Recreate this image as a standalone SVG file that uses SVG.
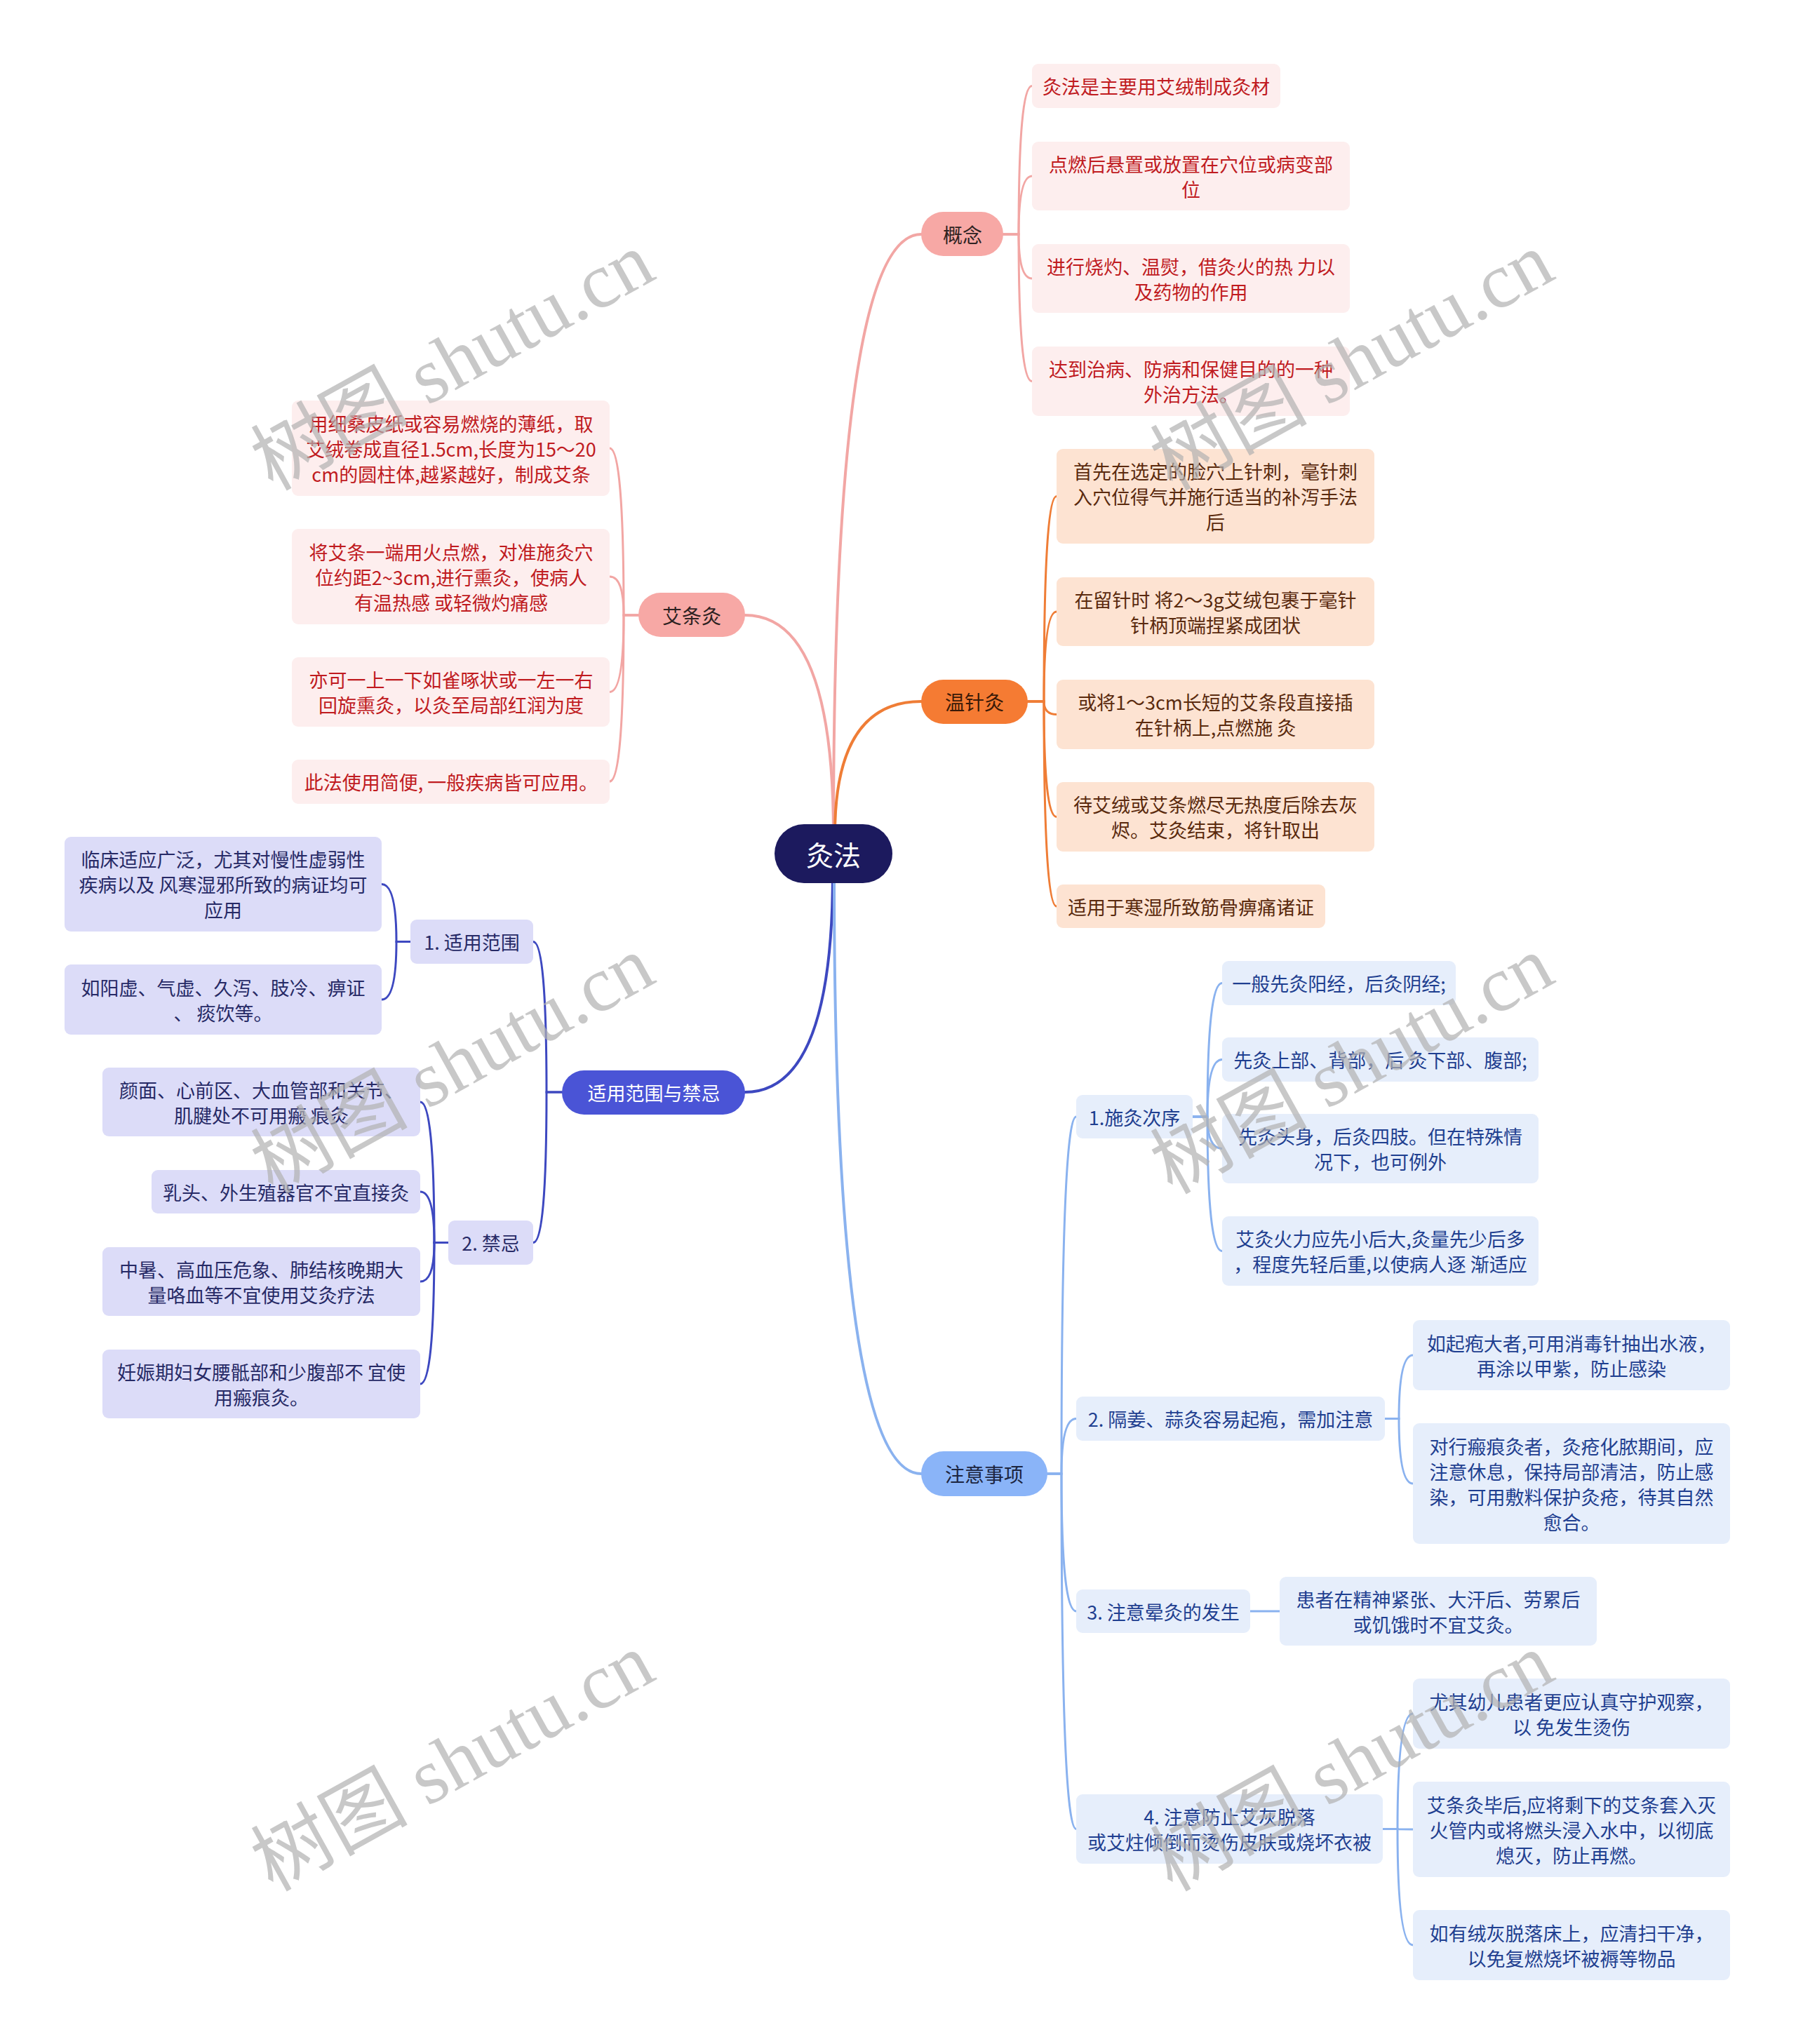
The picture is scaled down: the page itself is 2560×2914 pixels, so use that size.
<svg xmlns="http://www.w3.org/2000/svg" width="2560" height="2914" viewBox="0 0 2560 2914">
<style>
text{font-family:"Noto Sans CJK SC","Noto Sans",sans-serif;text-anchor:middle;dominant-baseline:central;font-size:27px}
.root{font-size:39px;fill:#fff}
.l1{font-size:28px}
.c{fill:none;stroke-linecap:round}
.pk{stroke:#f2a6a4;stroke-width:3}
.or{stroke:#ef7d36;stroke-width:3}
.bl{stroke:#3d48c0;stroke-width:3}
.lb{stroke:#8ab2ef;stroke-width:3}
.main{stroke-width:4}
.pkbox{fill:#fdeeee}
.pkt{fill:#c01b1f}
.orbox{fill:#fde3d2}
.ort{fill:#5a2a0e}
.blbox{fill:#dcdcf8}
.blt{fill:#272a66}
.lbbox{fill:#e6eefb}
.lbt{fill:#1f3f90}
.wm{font-family:"Liberation Serif","Noto Sans CJK SC",serif;font-size:112px;fill:#b0b0b0;fill-opacity:0.7}
</style>
<rect width="2560" height="2914" fill="#fff"/>
<g id="connectors">
<path class="c pk main" d="M1188,1190 Q1188,334 1313,334"/>
<path class="c pk main" d="M1188,1190 Q1188,877 1062,877"/>
<path class="c or main" d="M1190,1190 Q1190,1000 1313,1000"/>
<path class="c bl main" d="M1187,1245 Q1187,1557 1062,1557"/>
<path class="c lb main" d="M1189,1245 Q1189,2101 1313,2101"/>
<path class="c pk" d="M1430,334 L1452,334 Q1452,122.5 1471,122.5"/>
<path class="c pk" d="M1430,334 L1452,334 Q1452,251 1471,251"/>
<path class="c pk" d="M1430,334 L1452,334 Q1452,397 1471,397"/>
<path class="c pk" d="M1430,334 L1452,334 Q1452,543.5 1471,543.5"/>
<path class="c or" d="M1465,1000 L1488,1000 Q1488,707.5 1506,707.5"/>
<path class="c or" d="M1465,1000 L1488,1000 Q1488,872 1506,872"/>
<path class="c or" d="M1465,1000 L1488,1000 Q1488,1018.5 1506,1018.5"/>
<path class="c or" d="M1465,1000 L1488,1000 Q1488,1164.5 1506,1164.5"/>
<path class="c or" d="M1465,1000 L1488,1000 Q1488,1292 1506,1292"/>
<path class="c pk" d="M910,877 L889,877 Q889,639 869,639"/>
<path class="c pk" d="M910,877 L889,877 Q889,822 869,822"/>
<path class="c pk" d="M910,877 L889,877 Q889,986.5 869,986.5"/>
<path class="c pk" d="M910,877 L889,877 Q889,1114 869,1114"/>
<path class="c bl" d="M801,1557 L779,1557 Q779,1342.5 760,1342.5"/>
<path class="c bl" d="M801,1557 L779,1557 Q779,1771.5 760,1771.5"/>
<path class="c bl" d="M585,1342.5 L565,1342.5 Q565,1260.5 544,1260.5"/>
<path class="c bl" d="M585,1342.5 L565,1342.5 Q565,1425 544,1425"/>
<path class="c bl" d="M639,1771.5 L619,1771.5 Q619,1571 599,1571"/>
<path class="c bl" d="M639,1771.5 L619,1771.5 Q619,1699 599,1699"/>
<path class="c bl" d="M639,1771.5 L619,1771.5 Q619,1827 599,1827"/>
<path class="c bl" d="M639,1771.5 L619,1771.5 Q619,1973 599,1973"/>
<path class="c lb" d="M1493,2101 L1513,2101 Q1513,1592 1534,1592"/>
<path class="c lb" d="M1493,2101 L1513,2101 Q1513,2022.5 1534,2022.5"/>
<path class="c lb" d="M1493,2101 L1513,2101 Q1513,2297 1534,2297"/>
<path class="c lb" d="M1493,2101 L1513,2101 Q1513,2607.5 1534,2607.5"/>
<path class="c lb" d="M1700,1592 L1721,1592 Q1721,1401.5 1742,1401.5"/>
<path class="c lb" d="M1700,1592 L1721,1592 Q1721,1510.5 1742,1510.5"/>
<path class="c lb" d="M1700,1592 L1721,1592 Q1721,1637.5 1742,1637.5"/>
<path class="c lb" d="M1700,1592 L1721,1592 Q1721,1783.5 1742,1783.5"/>
<path class="c lb" d="M1974,2022.5 L1994,2022.5 Q1994,1932 2014,1932"/>
<path class="c lb" d="M1974,2022.5 L1994,2022.5 Q1994,2115 2014,2115"/>
<path class="c lb" d="M1782,2297 L1824,2297"/>
<path class="c lb" d="M1971,2607.5 L1992,2607.5 Q1992,2443 2014,2443"/>
<path class="c lb" d="M1971,2607.5 L1992,2607.5 Q1992,2608 2014,2608"/>
<path class="c lb" d="M1971,2607.5 L1992,2607.5 Q1992,2773 2014,2773"/>
</g>
<g id="root">
<rect x="1104" y="1175" width="168" height="84" rx="42" fill="#1c1a5e"/>
<text class="root" x="1188" y="1217">灸法</text>
</g>
<g id="gainian">
<rect x="1313" y="302" width="117" height="63" rx="31.5" fill="#f7a8a5"/>
<text class="l1" x="1372" y="334" fill="#2e2222">概念</text>
</g>
<g id="gn1"><rect class="pkbox" x="1471" y="91" width="354" height="63" rx="9"/><text class="pkt" x="1648" y="122.5">灸法是主要用艾绒制成灸材</text></g>
<g id="gn2"><rect class="pkbox" x="1471" y="202" width="453" height="98" rx="9"/><text class="pkt" x="1697.5" y="233">点燃后悬置或放置在穴位或病变部</text><text class="pkt" x="1697.5" y="269">位</text></g>
<g id="gn3"><rect class="pkbox" x="1471" y="348" width="453" height="98" rx="9"/><text class="pkt" x="1697.5" y="379">进行烧灼、温熨，借灸火的热 力以</text><text class="pkt" x="1697.5" y="415">及药物的作用</text></g>
<g id="gn4"><rect class="pkbox" x="1471" y="494" width="453" height="99" rx="9"/><text class="pkt" x="1697.5" y="525.5">达到治病、防病和保健目的的一种</text><text class="pkt" x="1697.5" y="561.5">外治方法。</text></g>
<g id="wenzhenjiu">
<rect x="1313" y="969" width="152" height="63" rx="31.5" fill="#f57b33"/>
<text class="l1" x="1389" y="1000" fill="#3a1a08">温针灸</text>
</g>
<g id="wz1"><rect class="orbox" x="1506" y="640" width="453" height="135" rx="9"/><text class="ort" x="1732.5" y="671.5">首先在选定的脸穴上针刺，毫针刺</text><text class="ort" x="1732.5" y="707.5">入穴位得气并施行适当的补泻手法</text><text class="ort" x="1732.5" y="743.5">后</text></g>
<g id="wz2"><rect class="orbox" x="1506" y="823" width="453" height="98" rx="9"/><text class="ort" x="1732.5" y="854">在留针时 将2～3g艾绒包裹于毫针</text><text class="ort" x="1732.5" y="890">针柄顶端捏紧成团状</text></g>
<g id="wz3"><rect class="orbox" x="1506" y="969" width="453" height="99" rx="9"/><text class="ort" x="1732.5" y="1000.5">或将1～3cm长短的艾条段直接插</text><text class="ort" x="1732.5" y="1036.5">在针柄上,点燃施 灸</text></g>
<g id="wz4"><rect class="orbox" x="1506" y="1115" width="453" height="99" rx="9"/><text class="ort" x="1732.5" y="1146.5">待艾绒或艾条燃尽无热度后除去灰</text><text class="ort" x="1732.5" y="1182.5">烬。艾灸结束，将针取出</text></g>
<g id="wz5"><rect class="orbox" x="1506" y="1261" width="383" height="62" rx="9"/><text class="ort" x="1697.5" y="1292">适用于寒湿所致筋骨痹痛诸证</text></g>
<g id="aitiaojiu">
<rect x="910" y="845" width="152" height="63" rx="31.5" fill="#f7a8a5"/>
<text class="l1" x="986" y="877" fill="#2e2222">艾条灸</text>
</g>
<g id="at1"><rect class="pkbox" x="416" y="571" width="453" height="136" rx="9"/><text class="pkt" x="643" y="603">用细桑皮纸或容易燃烧的薄纸，取</text><text class="pkt" x="643" y="639">艾绒卷成直径1.5cm,长度为15～20</text><text class="pkt" x="643" y="675">cm的圆柱体,越紧越好，制成艾条</text></g>
<g id="at2"><rect class="pkbox" x="416" y="754" width="453" height="136" rx="9"/><text class="pkt" x="643" y="786">将艾条一端用火点燃，对准施灸穴</text><text class="pkt" x="643" y="822">位约距2~3cm,进行熏灸，使病人</text><text class="pkt" x="643" y="858">有温热感 或轻微灼痛感</text></g>
<g id="at3"><rect class="pkbox" x="416" y="937" width="453" height="99" rx="9"/><text class="pkt" x="643" y="968.5">亦可一上一下如雀啄状或一左一右</text><text class="pkt" x="643" y="1004.5">回旋熏灸，以灸至局部红润为度</text></g>
<g id="at4"><rect class="pkbox" x="416" y="1083" width="453" height="63" rx="9"/><text class="pkt" x="643" y="1114">此法使用简便, 一般疾病皆可应用。</text></g>
<g id="shiyong">
<rect x="801" y="1526" width="261" height="63" rx="31.5" fill="#4a54d6"/>
<text x="932" y="1557" fill="#fff">适用范围与禁忌</text>
</g>
<g id="sy1"><rect class="blbox" x="585" y="1311" width="175" height="63" rx="9"/><text class="blt" x="672.5" y="1342.5">1. 适用范围</text></g>
<g id="sy1a"><rect class="blbox" x="92" y="1193" width="452" height="135" rx="9"/><text class="blt" x="318" y="1224.5">临床适应广泛，尤其对慢性虚弱性</text><text class="blt" x="318" y="1260.5">疾病以及 风寒湿邪所致的病证均可</text><text class="blt" x="318" y="1296.5">应用</text></g>
<g id="sy1b"><rect class="blbox" x="92" y="1375" width="452" height="100" rx="9"/><text class="blt" x="318" y="1407">如阳虚、气虚、久泻、肢冷、痹证</text><text class="blt" x="318" y="1443">、 痰饮等。</text></g>
<g id="sy2"><rect class="blbox" x="639" y="1740" width="121" height="63" rx="9"/><text class="blt" x="699.5" y="1771.5">2. 禁忌</text></g>
<g id="sy2a"><rect class="blbox" x="146" y="1522" width="453" height="98" rx="9"/><text class="blt" x="372.5" y="1553">颜面、心前区、大血管部和关节、</text><text class="blt" x="372.5" y="1589">肌腱处不可用瘢 痕灸</text></g>
<g id="sy2b"><rect class="blbox" x="216" y="1668" width="383" height="62" rx="9"/><text class="blt" x="407.5" y="1699">乳头、外生殖器官不宜直接灸</text></g>
<g id="sy2c"><rect class="blbox" x="146" y="1778" width="453" height="98" rx="9"/><text class="blt" x="372.5" y="1809">中暑、高血压危象、肺结核晚期大</text><text class="blt" x="372.5" y="1845">量咯血等不宜使用艾灸疗法</text></g>
<g id="sy2d"><rect class="blbox" x="146" y="1924" width="453" height="98" rx="9"/><text class="blt" x="372.5" y="1955">妊娠期妇女腰骶部和少腹部不 宜使</text><text class="blt" x="372.5" y="1991">用瘢痕灸。</text></g>
<g id="zhuyi">
<rect x="1313" y="2069" width="180" height="64" rx="32" fill="#8ab4f8"/>
<text class="l1" x="1403" y="2101" fill="#1c2540">注意事项</text>
</g>
<g id="zy1"><rect class="lbbox" x="1534" y="1561" width="166" height="62" rx="9"/><text class="lbt" x="1617" y="1592">1.施灸次序</text></g>
<g id="zy1a"><rect class="lbbox" x="1742" y="1370" width="333" height="63" rx="9"/><text class="lbt" x="1908.5" y="1401.5">一般先灸阳经，后灸阴经;</text></g>
<g id="zy1b"><rect class="lbbox" x="1742" y="1479" width="451" height="63" rx="9"/><text class="lbt" x="1967.5" y="1510.5">先灸上部、背部，后 灸下部、腹部;</text></g>
<g id="zy1c"><rect class="lbbox" x="1742" y="1588" width="451" height="99" rx="9"/><text class="lbt" x="1967.5" y="1619.5">先灸头身，后灸四肢。但在特殊情</text><text class="lbt" x="1967.5" y="1655.5">况下，也可例外</text></g>
<g id="zy1d"><rect class="lbbox" x="1742" y="1734" width="451" height="99" rx="9"/><text class="lbt" x="1967.5" y="1765.5">艾灸火力应先小后大,灸量先少后多</text><text class="lbt" x="1967.5" y="1801.5">，程度先轻后重,以使病人逐 渐适应</text></g>
<g id="zy2"><rect class="lbbox" x="1534" y="1991" width="440" height="63" rx="9"/><text class="lbt" x="1754" y="2022.5">2. 隔姜、蒜灸容易起疱，需加注意</text></g>
<g id="zy2a"><rect class="lbbox" x="2014" y="1882" width="452" height="100" rx="9"/><text class="lbt" x="2240" y="1914">如起疱大者,可用消毒针抽出水液，</text><text class="lbt" x="2240" y="1950">再涂以甲紫，防止感染</text></g>
<g id="zy2b"><rect class="lbbox" x="2014" y="2029" width="452" height="172" rx="9"/><text class="lbt" x="2240" y="2061">对行瘢痕灸者，灸疮化脓期间，应</text><text class="lbt" x="2240" y="2097">注意休息，保持局部清洁，防止感</text><text class="lbt" x="2240" y="2133">染，可用敷料保护灸疮，待其自然</text><text class="lbt" x="2240" y="2169">愈合。</text></g>
<g id="zy3"><rect class="lbbox" x="1534" y="2266" width="248" height="62" rx="9"/><text class="lbt" x="1658" y="2297">3. 注意晕灸的发生</text></g>
<g id="zy3a"><rect class="lbbox" x="1824" y="2248" width="452" height="98" rx="9"/><text class="lbt" x="2050" y="2279">患者在精神紧张、大汗后、劳累后</text><text class="lbt" x="2050" y="2315">或饥饿时不宜艾灸。</text></g>
<g id="zy4"><rect class="lbbox" x="1534" y="2558" width="437" height="99" rx="9"/><text class="lbt" x="1752.5" y="2589.5">4. 注意防止艾灰脱落</text><text class="lbt" x="1752.5" y="2625.5">或艾炷倾倒而烫伤皮肤或烧坏衣被</text></g>
<g id="zy4a"><rect class="lbbox" x="2014" y="2393" width="452" height="100" rx="9"/><text class="lbt" x="2240" y="2425">尤其幼儿患者更应认真守护观察，</text><text class="lbt" x="2240" y="2461">以 免发生烫伤</text></g>
<g id="zy4b"><rect class="lbbox" x="2014" y="2540" width="452" height="136" rx="9"/><text class="lbt" x="2240" y="2572">艾条灸毕后,应将剩下的艾条套入灭</text><text class="lbt" x="2240" y="2608">火管内或将燃头浸入水中，以彻底</text><text class="lbt" x="2240" y="2644">熄灭，防止再燃。</text></g>
<g id="zy4c"><rect class="lbbox" x="2014" y="2723" width="452" height="100" rx="9"/><text class="lbt" x="2240" y="2755">如有绒灰脱落床上，应清扫干净，</text><text class="lbt" x="2240" y="2791">以免复燃烧坏被褥等物品</text></g>
<g id="watermarks">
<text class="wm" transform="translate(645,515) rotate(-29)">树图 shutu.cn</text>
<text class="wm" transform="translate(1927,515) rotate(-29)">树图 shutu.cn</text>
<text class="wm" transform="translate(645,1518) rotate(-29)">树图 shutu.cn</text>
<text class="wm" transform="translate(1927,1518) rotate(-29)">树图 shutu.cn</text>
<text class="wm" transform="translate(645,2512) rotate(-29)">树图 shutu.cn</text>
<text class="wm" transform="translate(1927,2512) rotate(-29)">树图 shutu.cn</text>
</g>
</svg>
